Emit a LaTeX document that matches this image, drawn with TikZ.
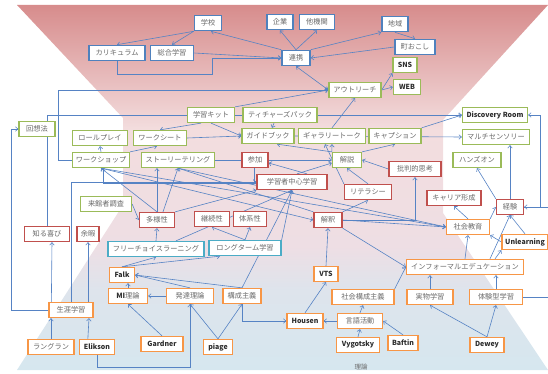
\documentclass[tikz,border=0pt]{standalone}
\usepackage{fontspec}
\setmainfont{Noto Sans CJK JP}
\usepackage{xcolor}
\usepackage{tikz}
\usetikzlibrary{arrows.meta,calc,backgrounds}
\definecolor{blueline}{RGB}{79,129,189}
\definecolor{greenline}{RGB}{155,187,89}
\definecolor{redline}{RGB}{192,80,77}
\definecolor{cyanline}{RGB}{75,172,198}
\definecolor{orangeline}{RGB}{247,150,70}
\definecolor{arrowblue}{RGB}{86,131,196}
\definecolor{textgray}{RGB}{105,105,105}
\definecolor{latingray}{RGB}{45,45,45}
\definecolor{topred}{RGB}{215,140,140}
\definecolor{midpink}{RGB}{243,221,222}
\definecolor{lowpink}{RGB}{238,222,228}
\definecolor{midblue}{RGB}{222,228,236}
\definecolor{lowblue}{RGB}{214,231,239}
\pgfdeclareverticalshading{hourglass}{100bp}{color(0bp)=(lowblue); color(25bp)=(lowblue); color(36bp)=(midblue); color(42bp)=(lowpink); color(58bp)=(midpink); color(75bp)=(topred); color(100bp)=(topred)}
\tikzset{
    boxbase/.style={draw, fill=white, line width=1.3pt, minimum height=15pt, inner sep=1pt, font=\fontsize{7.2}{8}\selectfont, text=textgray},
    bluebox/.style={boxbase, draw=blueline, line width=1.6pt},
    greenbox/.style={boxbase, draw=greenline},
    redbox/.style={boxbase, draw=redline},
    cyanbox/.style={boxbase, draw=cyanline},
    orangebox/.style={boxbase, draw=orangeline},
    latin/.style={font=\fontsize{7}{8}\selectfont\bfseries, text=latingray},
    link/.style={-{Straight Barb[length=2.5pt,width=4.5pt]}, line width=0.6pt, draw=arrowblue}
}

\begin{document}
\begin{tikzpicture}[x=1pt,y=-1pt]
\useasboundingbox (0,0) rectangle (548,374);
% top: school and region
\node[bluebox, minimum width=27] (gakko) at (208,23) {学校};
\node[bluebox, minimum width=26] (kigyo) at (280,22) {企業};
\node[bluebox, minimum width=35] (takikan) at (317,22) {他機関};
\node[bluebox, minimum width=26] (chiiki) at (395,24) {地域};
\node[bluebox, minimum width=40] (machiokoshi) at (415,47) {町おこし};
\node[bluebox, minimum width=56] (curriculum) at (117,53) {カリキュラム};
\node[bluebox, minimum width=43] (sogo) at (172,53) {総合学習};
\node[bluebox, minimum width=28] (renkei) at (296,58) {連携};
% methods
\node[greenbox, latin, minimum width=24] (sns) at (405,65) {SNS};
\node[greenbox, latin, minimum width=27] (web) at (407,87) {WEB};
\node[greenbox, minimum width=52] (outreach) at (355,90) {アウトリーチ};
\node[greenbox, minimum width=47] (kit) at (211,115) {学習キット};
\node[greenbox, minimum width=74] (teacherspack) at (280,115) {ティチャーズパック};
\node[greenbox, latin, minimum width=65] (discovery) at (495,115) {Discovery Room};
\node[greenbox, minimum width=36] (kaiso) at (37,129) {回想法};
\node[greenbox, minimum width=55] (roleplay) at (100,138) {ロールプレイ};
\node[greenbox, minimum width=53] (worksheet) at (160,138) {ワークシート};
\node[greenbox, minimum width=57] (workshop) at (101,160) {ワークショップ};
\node[greenbox, minimum width=73] (story) at (178,160) {ストーリーテリング};
\node[greenbox, minimum width=52] (guidebook) at (268,136) {ガイドブック};
\node[greenbox, minimum width=67] (gallery) at (332,136) {ギャラリートーク};
\node[greenbox, minimum width=52] (caption) at (395,136) {キャプション};
\node[greenbox, minimum width=67] (multi) at (496,137) {マルチセンソリー};
\node[greenbox, minimum width=48] (handson) at (477,160) {ハンズオン};
\node[greenbox, minimum width=29] (kaisetsu) at (347,160) {解説};
\node[greenbox, minimum width=51] (raikan) at (106,204) {来館者調査};
% aims
\node[redbox, minimum width=26] (sanka) at (255,160) {参加};
\node[redbox, minimum width=70] (learner) at (292,182) {学習者中心学習};
\node[redbox, minimum width=52] (hihan) at (415,169) {批判的思考};
\node[redbox, minimum width=47] (literacy) at (368,192) {リテラシー};
\node[redbox, minimum width=54] (career) at (454,198) {キャリア形成};
\node[redbox, minimum width=27] (keiken) at (510,207) {経験};
\node[redbox, minimum width=28] (kaishaku) at (328,220) {解釈};
\node[redbox, minimum width=35] (tayosei) at (157,220) {多様性};
\node[redbox, minimum width=35] (keizoku) at (212,219) {継続性};
\node[redbox, minimum width=33] (taikei) at (250,219) {体系性};
\node[redbox, minimum width=45] (yorokobi) at (47,234) {知る喜び};
\node[redbox, minimum width=22] (yoka) at (88,234) {余暇};
\node[cyanbox, minimum width=96] (freechoice) at (156,249) {フリーチョイスラーニング};
\node[cyanbox, minimum width=72] (longterm) at (245,248) {ロングターム学習};
% theory
\node[orangebox, minimum width=43] (shakaikyoiku) at (468,227) {社会教育};
\node[orangebox, latin, minimum width=46] (unlearning) at (525,242) {Unlearning};
\node[orangebox, minimum width=117] (informal) at (465,267) {インフォーマルエデュケーション};
\node[orangebox, latin, minimum width=24] (vts) at (326,274) {VTS};
\node[orangebox, minimum width=62] (shakaikosei) at (363,297) {社会構成主義};
\node[orangebox, minimum width=46] (jitsubutsu) at (430,297) {実物学習};
\node[orangebox, minimum width=53] (taiken) at (496,297) {体験型学習};
\node[orangebox, latin, minimum width=36] (housen) at (305,321) {Housen};
\node[orangebox, minimum width=45] (gengo) at (360,321) {言語活動};
\node[orangebox, latin, minimum width=43] (vygotsky) at (358,345) {Vygotsky};
\node[orangebox, latin, minimum width=30] (baftin) at (403,343) {Baftin};
\node[orangebox, latin, minimum width=34] (dewey) at (487,345) {Dewey};
\node[orangebox, latin, minimum width=25] (falk) at (122,275) {Falk};
\node[orangebox, minimum width=39] (mi) at (128,296) {{\bfseries\color{latingray}MI}理論};
\node[orangebox, minimum width=47] (hattatsu) at (190,296) {発達理論};
\node[orangebox, minimum width=38] (kosei) at (242,296) {構成主義};
\node[orangebox, minimum width=44] (shogai) at (71,310) {生涯学習};
\node[orangebox, minimum width=46] (lengrand) at (51,347) {ラングラン};
\node[orangebox, latin, minimum width=35] (elikson) at (97,347) {Elikson};
\node[orangebox, latin, minimum width=42] (gardner) at (162,344) {Gardner};
\node[orangebox, latin, minimum width=29] (piage) at (218,347) {piage};
\node[font=\fontsize{6.5}{7}\selectfont, text=textgray] (riron) at (361,367) {理論};

\begin{scope}[on background layer]
\path[shading=hourglass] (17,5) -- (548,5) -- (443,120) -- (443,213) -- (548,370)
    -- (17,370) -- (123,205) -- (123,118) -- cycle;
% top links
\draw[link] (gakko.south west) -- (curriculum.north);
\draw[link] (gakko.south west) -- (sogo.north);
\draw[link] (renkei.north west) -- ([xshift=3pt]gakko.south);
\draw[link] (sogo.east) -- (renkei.west);
\draw[link] (curriculum.south) -- ++(0,13) -| ($(renkei.west)+(-69,0)$) -- (renkei.west);
\draw[link] (renkei.north) -- (kigyo.south);
\draw[link] (renkei.north) -- (takikan.south);
\draw[link] (renkei.north east) -- (chiiki.south west);
\draw[link] (chiiki.south) -- (machiokoshi.north);
\draw[link] (machiokoshi.west) -- (renkei.east);
\draw[link, {Straight Barb[length=2.5pt,width=4.5pt]}-{Stealth[length=3.5pt,width=4.5pt]}] (renkei.south) -- (outreach.west);
\draw[link] (outreach.east) -- (sns.south west);
\draw[link] (outreach.east) -- (web.west);
\draw[link] (workshop.west) -- ++(-14,0) |- (outreach.west);
\draw[link] (kit.north east) -- (outreach.west);
\draw[link] (gallery.north) -- (outreach.south);
% methods
\draw[link] (yorokobi.north) |- (discovery.west);
\draw[link] ([xshift=-10pt]kit.south) -- (worksheet.north);
\draw[link] (kit.south) -- (guidebook.west);
\draw[link] ([xshift=-6pt]teacherspack.south) -- ([xshift=4pt]guidebook.north);
\draw[link] (worksheet.east) -- (guidebook.west);
\draw[link] (guidebook.east) -- (multi.west);
\draw[link] (caption.north east) -- (discovery.west);
\draw[link] (workshop.north) -- (roleplay.south);
\draw[link] (workshop.north east) -- ([xshift=-3pt]worksheet.south);
\draw[link] (story.east) -- (kaisetsu.west);
\draw[link] ([xshift=15pt]learner.north) -- ([yshift=-3pt]sanka.east);
\draw[link] ([xshift=5pt]learner.north) -- ([yshift=-3pt]kaisetsu.west);
\draw[link] ([xshift=-1pt]sanka.south) |- (learner.west);
\draw[link] (shogai.north) |- (learner.west);
\draw[link] ([yshift=-1.2pt]learner.west) -| ([xshift=2pt]workshop.south);
\draw[link] (raikan.east) -- (tayosei.west);
\draw[link] (tayosei.north) -- (workshop.south);
\draw[link] (tayosei.north) -- (tayosei.north |- story.south);
\draw[link] ([xshift=6pt]tayosei.north) -- (story.south);
\draw[link] (tayosei.north east) -- (learner.south west);
\draw[link] (workshop.south) -- (kaishaku.west);
\draw[link] (workshop.south) -- (shakaikyoiku.west);
\draw[link] (story.south) -- (shakaikyoiku.west);
\draw[link] (kaishaku.north west) -- (story.south);
% aims
\draw[link] (kaishaku.east) -| (hihan.south);
\draw[link] (kaishaku.east) -- (shakaikyoiku.west);
\draw[link] (kaishaku.north east) -- (literacy.south);
\draw[link] (literacy.north) -- (kaisetsu.south);
\draw[link] (literacy.north west) -- ([xshift=-7pt]gallery.south);
\draw[link] (kaisetsu.north west) -- (gallery.south);
\draw[link] (kaisetsu.north east) -- (caption.south);
\draw[link] (kaisetsu.north west) -- ([xshift=9pt]guidebook.south);
\draw[link] (hihan.west) -- (kaisetsu.east);
\draw[link] (freechoice.north) -- (tayosei.south);
\draw[link] ([xshift=20pt]freechoice.north) -- (learner.south);
\draw[link] (longterm.north) -- (keizoku.south);
\draw[link] (longterm.north) -- (taikei.south);
\draw[link] (longterm.north east) -- (learner.south);
% right side
\draw[link] (keiken.north) -- (keiken.north |- multi.south);
\draw[link] (keiken.north west) -- (handson.south);
\draw[link] (keiken.east) -- ++(16,0) |- (discovery.east);
\draw[link] (taiken.east) -- ++(40,0) |- (keiken.east);
\draw[link] (shakaikyoiku.north east) -- (keiken.west);
\draw[link] (shakaikyoiku.north) -- (career.south);
\draw[link] (unlearning.north) -- (keiken.south);
\draw[link] (unlearning.west) -- (shakaikyoiku.south east);
\draw[link] (informal.north) -- (shakaikyoiku.south);
\draw[link] ([xshift=25pt]informal.north) -- (keiken.south);
\draw[link] ([xshift=30pt]informal.north) -- (unlearning.south west);
% theory
\draw[link] (kaishaku.south east) -- (informal.west);
\draw[link] (shakaikosei.north east) -- (informal.west);
\draw[link] (jitsubutsu.north) -- (jitsubutsu.north |- informal.south);
\draw[link] (taiken.north) -- (taiken.north |- informal.south);
\draw[link] (dewey.north) -- (jitsubutsu.south);
\draw[link] (dewey.north) -- (taiken.south);
\draw[link] (vts.north) -- (kaishaku.south);
\draw[link] (housen.north) -- (vts.south);
\draw[link] (gengo.west) -- (housen.east);
\draw[link] (gengo.north) -- (shakaikosei.south);
\draw[link] (vygotsky.north) -- (gengo.south);
\draw[link] (baftin.north) -- (gengo.east);
\draw[link] (kosei.south) |- (housen.west);
\draw[link] (kosei.north) -- (learner.south);
\draw[link] (kosei.north) -- (falk.east);
\draw[link] (hattatsu.north) -- (falk.east);
\draw[link] (hattatsu.west) -- (mi.east);
\draw[link] (mi.north) -- (mi.north |- falk.south);
\draw[link] (falk.north) -- (freechoice.south);
\draw[link] (falk.north) -- ([xshift=-25pt]longterm.south);
\draw[link] (gardner.north) -- (mi.south);
\draw[link] (piage.north) -- (hattatsu.south);
\draw[link] (piage.north) -- (kosei.south);
\draw[link] (elikson.south) -- ++(0,12) -| (hattatsu.south);
\draw[link] ($(elikson.north west)+(9,0)$) -- ($(shogai.south)+(18,0)$);
\draw[link] (lengrand.north) -- (lengrand.north |- shogai.south);
\draw[link] ($(shogai.north west)+(3,0)$) -- ($(yorokobi.south)+(5,0)$);
\draw[link] (yoka.south |- shogai.north) -- (yoka.south);
\draw[link] (shogai.west) -- ++(-37,0) |- (kaiso.west);
\end{scope}
\end{tikzpicture}
\end{document}
